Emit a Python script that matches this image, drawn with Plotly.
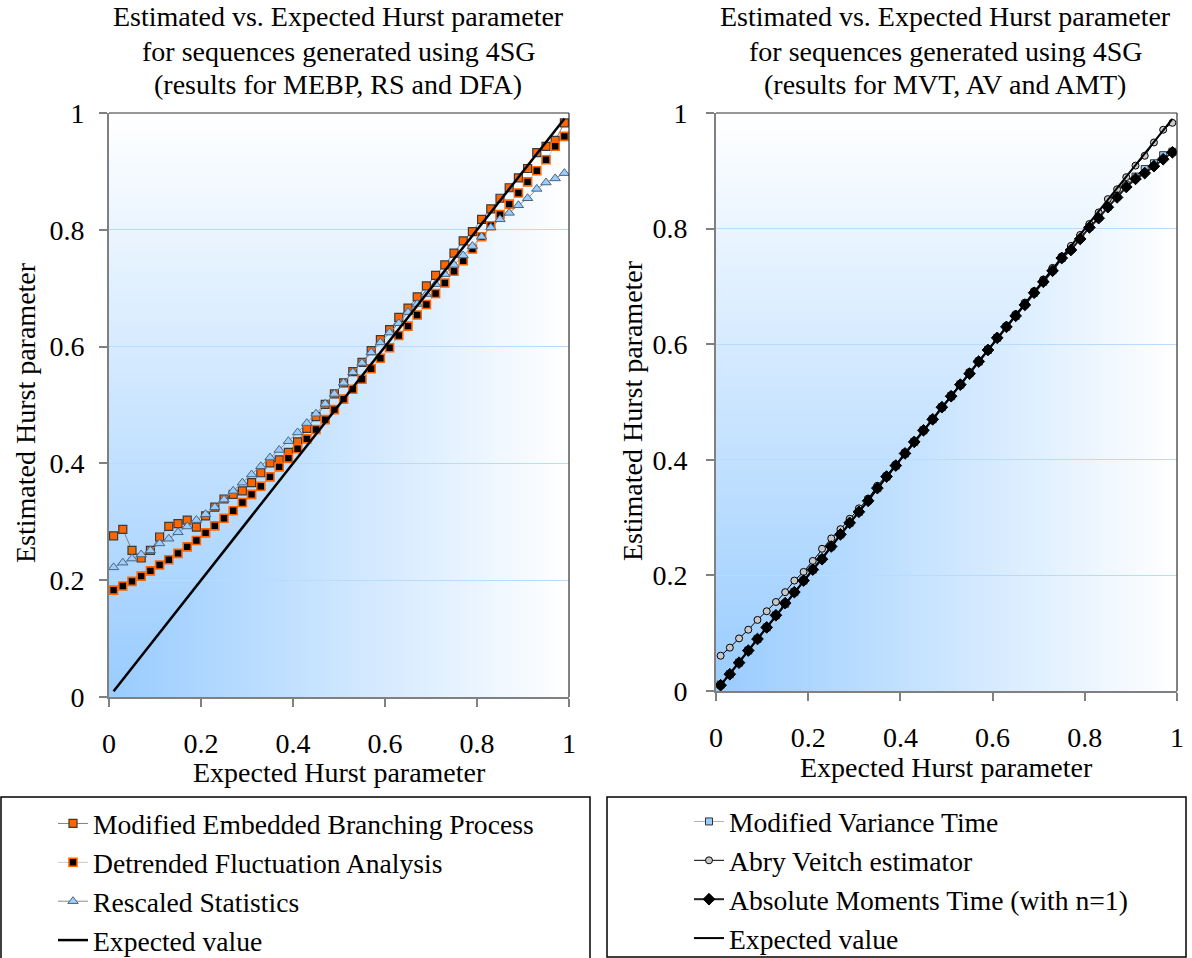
import base64
import struct
import zlib

import numpy as np
import plotly.graph_objects as go

# ---------------------------------------------------------------- data
# expected Hurst parameter used to generate each sequence
H = [0.01, 0.03, 0.05, 0.07, 0.09, 0.11, 0.13, 0.15, 0.17, 0.19,
     0.21, 0.23, 0.25, 0.27, 0.29, 0.31, 0.33, 0.35, 0.37, 0.39,
     0.41, 0.43, 0.45, 0.47, 0.49, 0.51, 0.53, 0.55, 0.57, 0.59,
     0.61, 0.63, 0.65, 0.67, 0.69, 0.71, 0.73, 0.75, 0.77, 0.79,
     0.81, 0.83, 0.85, 0.87, 0.89, 0.91, 0.93, 0.95, 0.97, 0.99]

# left panel estimators
MEBP = [0.276, 0.287, 0.251, 0.238, 0.251, 0.274, 0.292, 0.297, 0.303, 0.291,
        0.310, 0.325, 0.339, 0.347, 0.353, 0.367, 0.384, 0.401, 0.406, 0.419,
        0.437, 0.460, 0.480, 0.501, 0.519, 0.538, 0.557, 0.573, 0.593, 0.612,
        0.629, 0.650, 0.666, 0.685, 0.704, 0.722, 0.740, 0.760, 0.781, 0.797,
        0.818, 0.836, 0.854, 0.872, 0.889, 0.905, 0.932, 0.943, 0.953, 0.983]
DFA = [0.183, 0.190, 0.198, 0.207, 0.216, 0.226, 0.235, 0.246, 0.257, 0.268,
       0.281, 0.293, 0.306, 0.319, 0.333, 0.347, 0.361, 0.377, 0.394, 0.409,
       0.425, 0.442, 0.458, 0.475, 0.492, 0.510, 0.527, 0.544, 0.562, 0.580,
       0.598, 0.619, 0.635, 0.654, 0.672, 0.691, 0.709, 0.729, 0.747, 0.767,
       0.788, 0.807, 0.826, 0.844, 0.863, 0.882, 0.901, 0.920, 0.943, 0.960]
RS = [0.222, 0.230, 0.237, 0.244, 0.251, 0.263, 0.271, 0.282, 0.292, 0.303,
      0.313, 0.325, 0.338, 0.353, 0.367, 0.381, 0.395, 0.410, 0.423, 0.438,
      0.453, 0.469, 0.485, 0.502, 0.519, 0.538, 0.556, 0.572, 0.590, 0.607,
      0.624, 0.640, 0.659, 0.673, 0.690, 0.707, 0.724, 0.740, 0.756, 0.772,
      0.788, 0.804, 0.818, 0.829, 0.842, 0.854, 0.870, 0.881, 0.888, 0.897]

# right panel estimators
MVT = [0.011, 0.029, 0.049, 0.070, 0.090, 0.110, 0.131, 0.151, 0.171, 0.191,
       0.210, 0.229, 0.250, 0.271, 0.291, 0.310, 0.330, 0.351, 0.371, 0.390,
       0.411, 0.431, 0.451, 0.470, 0.491, 0.510, 0.530, 0.550, 0.570, 0.590,
       0.611, 0.630, 0.649, 0.669, 0.689, 0.708, 0.728, 0.749, 0.765, 0.784,
       0.803, 0.820, 0.838, 0.856, 0.875, 0.890, 0.903, 0.913, 0.927, 0.933]
AV = [0.061, 0.075, 0.091, 0.106, 0.123, 0.138, 0.154, 0.171, 0.191, 0.206,
      0.225, 0.246, 0.264, 0.280, 0.298, 0.316, 0.333, 0.355, 0.373, 0.392,
      0.413, 0.432, 0.452, 0.472, 0.492, 0.512, 0.532, 0.552, 0.572, 0.592,
      0.612, 0.632, 0.652, 0.672, 0.692, 0.712, 0.732, 0.752, 0.770, 0.789,
      0.808, 0.828, 0.851, 0.868, 0.889, 0.909, 0.926, 0.949, 0.971, 0.983]
AMT = [0.010, 0.029, 0.049, 0.070, 0.090, 0.110, 0.131, 0.152, 0.171, 0.191,
       0.210, 0.228, 0.250, 0.271, 0.291, 0.310, 0.329, 0.351, 0.371, 0.390,
       0.411, 0.431, 0.451, 0.470, 0.491, 0.510, 0.530, 0.549, 0.570, 0.590,
       0.611, 0.630, 0.649, 0.668, 0.689, 0.708, 0.727, 0.749, 0.763, 0.782,
       0.802, 0.818, 0.837, 0.854, 0.872, 0.886, 0.896, 0.908, 0.920, 0.932]

TICKS = [0, 0.2, 0.4, 0.6, 0.8, 1]
TICK_TEXT = ["0", "0.2", "0.4", "0.6", "0.8", "1"]

TITLE_LEFT = ["Estimated vs. Expected Hurst parameter",
              "for sequences generated using 4SG",
              "(results for MEBP, RS and DFA)"]
TITLE_RIGHT = ["Estimated vs. Expected Hurst parameter",
               "for sequences generated using 4SG",
               "(results for MVT, AV and AMT)"]
X_TITLE = "Expected Hurst parameter"
Y_TITLE = "Estimated Hurst parameter"

# ---------------------------------------------------------------- styling
W, HGT = 1192, 958
FONT = "Liberation Serif"
ORANGE = "#ff6600"
SKY = "#99ccff"


def px_x(p):
    return p / W


def px_y(p):
    return 1 - p / HGT


def corner_gradient_uri(n=256, start=(153, 204, 255), end=(255, 255, 255)):
    """Blue-to-white fill radiating from the lower-left corner, as a PNG data URI."""
    u = np.linspace(0, 1, n)[None, :]
    v = np.linspace(1, 0, n)[:, None]
    t = np.maximum(u, v)
    s = np.array(start, float)
    e = np.array(end, float)
    rgb = (s + (e - s) * t[..., None]).round().astype(np.uint8)
    raw = b"".join(b"\x00" + rgb[r].tobytes() for r in range(n))

    def chunk(tag, data):
        body = tag + data
        return struct.pack(">I", len(data)) + body + struct.pack(">I", zlib.crc32(body) & 0xFFFFFFFF)

    png = (b"\x89PNG\r\n\x1a\n"
           + chunk(b"IHDR", struct.pack(">IIBBBBB", n, n, 8, 2, 0, 0, 0))
           + chunk(b"IDAT", zlib.compress(raw, 9))
           + chunk(b"IEND", b""))
    return "data:image/png;base64," + base64.b64encode(png).decode()


fig = go.Figure()


def add_series(name, y, xa, ya, legend, line, marker=None, mode="lines+markers"):
    fig.add_trace(go.Scatter(
        x=H, y=y, name=name, mode=mode, xaxis=xa, yaxis=ya,
        legend=legend, legendgroup=name, line=line, marker=marker,
        hoverinfo="skip",
    ))


# left panel
add_series("Modified Embedded Branching Process", MEBP, "x", "y", "legend",
           dict(color="#808080", width=1),
           dict(symbol="square", size=8, color=ORANGE, line=dict(color="#3a3a3a", width=1.2)))
add_series("Detrended Fluctuation Analysis", DFA, "x", "y", "legend",
           dict(color="#c8c8c8", width=1),
           dict(symbol="square", size=8, color="black", line=dict(color=ORANGE, width=1.6)))
add_series("Rescaled Statistics", RS, "x", "y", "legend",
           dict(color="#8a8a8a", width=1),
           dict(symbol="triangle-up", size=9, color=SKY, line=dict(color="#4a6580", width=1)))
add_series("Expected value", H, "x", "y", "legend",
           dict(color="black", width=2.5), mode="lines")

# right panel
add_series("Modified Variance Time", MVT, "x2", "y2", "legend2",
           dict(color="#b0b0b0", width=1),
           dict(symbol="square", size=7, color=SKY, line=dict(color="#303030", width=1)))
add_series("Abry Veitch estimator", AV, "x2", "y2", "legend2",
           dict(color="black", width=1),
           dict(symbol="circle", size=7, color="#c8c8c8", line=dict(color="black", width=1)))
add_series("Absolute Moments Time (with n=1)", AMT, "x2", "y2", "legend2",
           dict(color="#202020", width=2),
           dict(symbol="diamond", size=9, color="black", line=dict(color="black", width=1)))
add_series("Expected value", H, "x2", "y2", "legend2",
           dict(color="black", width=2), mode="lines")

axis_common = dict(
    range=[0, 1], tickvals=TICKS, ticktext=TICK_TEXT,
    showline=True, linecolor="#808080", linewidth=2,
    ticks="outside", ticklen=8, tickcolor="#808080", tickwidth=1.5,
    tickfont=dict(family=FONT, size=28, color="black"),
    zeroline=False, fixedrange=True, automargin=False,
)
x_common = dict(axis_common, showgrid=False, ticklabelstandoff=12)
y_common = dict(axis_common, showgrid=True, gridcolor="#b8dcfd", gridwidth=1,
                ticklabelstandoff=9)

legend_common = dict(xanchor="left", yanchor="top", bgcolor="rgba(0,0,0,0)",
                     borderwidth=0, tracegroupgap=0,
                     font=dict(family=FONT, size=27.6, color="black"))

fig.update_layout(
    width=W, height=HGT,
    margin=dict(l=0, r=0, t=0, b=0, autoexpand=False),
    paper_bgcolor="white", plot_bgcolor="white",
    font=dict(family=FONT, size=28, color="black"),
    xaxis=dict(x_common, domain=[px_x(109), px_x(569)], anchor="y"),
    yaxis=dict(y_common, domain=[px_y(697), px_y(113)], anchor="x"),
    xaxis2=dict(x_common, domain=[px_x(716), px_x(1177)], anchor="y2"),
    yaxis2=dict(y_common, domain=[px_y(691), px_y(113)], anchor="x2",
                ticklabelstandoff=13),
    showlegend=True,
    legend=dict(legend_common, x=px_x(53), y=px_y(799)),
    legend2=dict(legend_common, x=px_x(689), y=px_y(797)),
)

# gradient plot-area fill beneath the grid
grad = corner_gradient_uri()
for xr, yr in (("x", "y"), ("x2", "y2")):
    fig.add_layout_image(dict(source=grad, xref=xr, yref=yr, x=0, y=1,
                              sizex=1, sizey=1, xanchor="left", yanchor="top",
                              sizing="stretch", layer="below"))

# dark frame on the top and right sides of each plot area
for xr, yr in (("x domain", "y domain"), ("x2 domain", "y2 domain")):
    fig.add_shape(type="line", xref=xr, yref=yr, x0=0, x1=1, y0=1, y1=1,
                  line=dict(color="#303030", width=1.2))
    fig.add_shape(type="line", xref=xr, yref=yr, x0=1, x1=1, y0=0, y1=1,
                  line=dict(color="#303030", width=1.2))

# legend boxes
fig.add_shape(type="rect", xref="paper", yref="paper",
              x0=px_x(1), x1=px_x(590), y0=px_y(975), y1=px_y(797),
              line=dict(color="black", width=1.5))
fig.add_shape(type="rect", xref="paper", yref="paper",
              x0=px_x(607), x1=px_x(1186), y0=px_y(957), y1=px_y(797),
              line=dict(color="black", width=1.5))

# titles and axis titles
for lines, cx in ((TITLE_LEFT, 338), (TITLE_RIGHT, 945)):
    for text, cy in zip(lines, (17, 51, 85)):
        fig.add_annotation(text=text, xref="paper", yref="paper",
                           x=px_x(cx), y=px_y(cy), xanchor="center", yanchor="middle",
                           showarrow=False, font=dict(family=FONT, size=28))

for cx, cy in ((339, 772), (946, 767)):
    fig.add_annotation(text=X_TITLE, xref="paper", yref="paper",
                       x=px_x(cx), y=px_y(cy), xanchor="center", yanchor="middle",
                       showarrow=False, font=dict(family=FONT, size=28))
for cx, cy in ((25, 413), (632, 411)):
    fig.add_annotation(text=Y_TITLE, xref="paper", yref="paper", textangle=-90,
                       x=px_x(cx), y=px_y(cy), xanchor="center", yanchor="middle",
                       showarrow=False, font=dict(family=FONT, size=28))

fig.write_html("out.html")
